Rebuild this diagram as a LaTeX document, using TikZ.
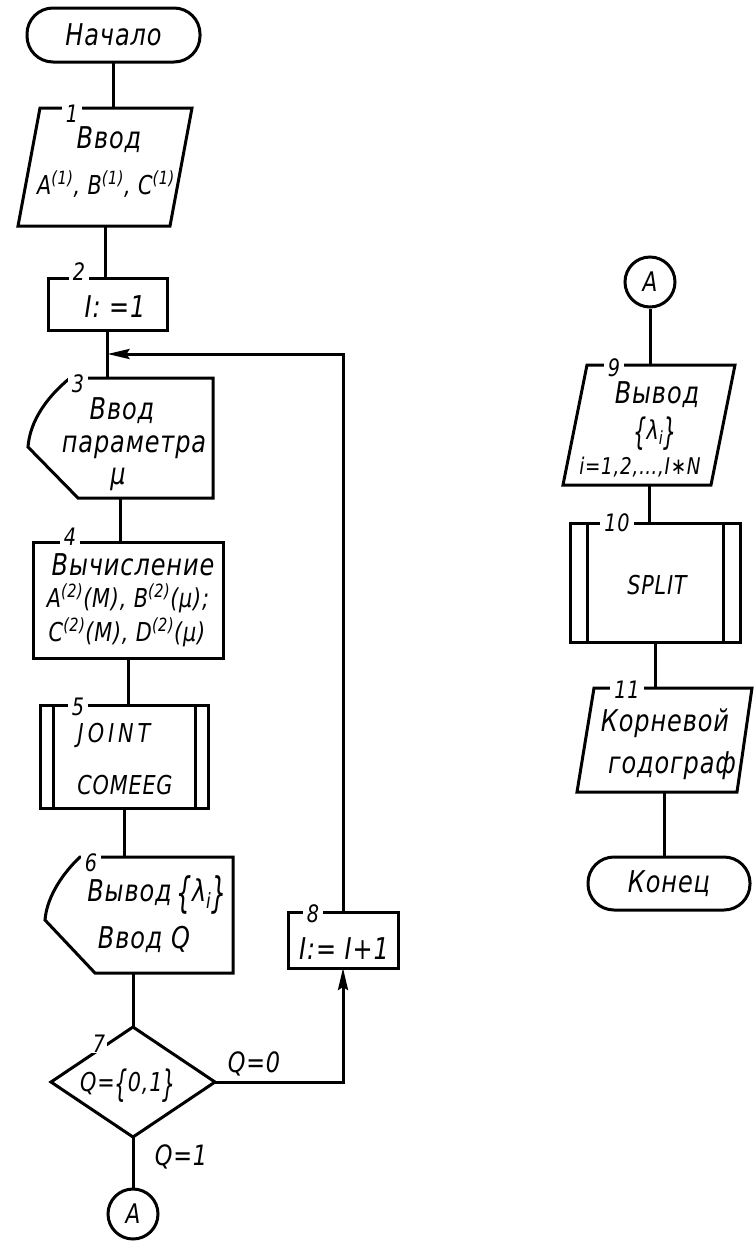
\documentclass[tikz,border=0pt]{standalone}
\usepackage{fontspec}
\setmainfont{DejaVu Sans}[FakeStretch=0.8,LetterSpace=3]
\usetikzlibrary{calc,arrows.meta}
% tall braces drawn from the text font
\newcommand{\tlb}{\raisebox{-0.22em}{\scalebox{1}[1.4]{\{}}}
\newcommand{\trb}{\raisebox{-0.22em}{\scalebox{1}[1.4]{\}}}}
\tikzset{
  lw/.style={line width=3pt},
  outline/.style={lw, line join=miter},
  frame/.style={draw=none, inner sep=0pt, outer sep=0pt},
  plainbox/.style={frame, draw, lw},
  term/.style={plainbox, rounded corners=26pt, font=\fontsize{30}{30}\selectfont\itshape},
  conn/.style={draw, lw, circle, inner sep=0pt, minimum size=50pt, font=\fontsize{27}{27}\selectfont\itshape},
  txt/.style={inner sep=0pt, anchor=base, font=\fontsize{30}{34}\selectfont\itshape},
  smalltxt/.style={txt, font=\fontsize{26}{28}\selectfont\itshape},
  labtxt/.style={txt, font=\fontsize{28}{28}\selectfont\itshape},
  num/.style={fill=white, inner xsep=4pt, inner ysep=0pt, font=\fontsize{24}{24}\selectfont\itshape},
  link/.style={lw},
  arrow/.style={lw, -{Stealth[length=22pt,width=10pt,inset=3pt]}},
}
\begin{document}
\begin{tikzpicture}[x=1pt,y=-1pt]
\useasboundingbox (0,0) rectangle (753,1243);

% ---------- left column ----------
\node[term, minimum width=173pt, minimum height=54pt] (start) at (113.5,35) {Начало};

% 1: input
\node[frame, minimum width=174pt, minimum height=118pt] (b1) at (105,167) {};
\draw[outline] ($(b1.north west)+(22,0)$) -- (b1.north east) -- ($(b1.south east)-(22,0)$) -- (b1.south west) -- cycle;
\node[txt] (t1a) at (109,148) {Ввод};
\node[smalltxt] (t1b) at (106,194) {A\textsuperscript{(1)}, B\textsuperscript{(1)}, C\textsuperscript{(1)}};

% 2: I := 1
\node[plainbox, minimum width=119pt, minimum height=52pt] (b2) at (107.5,304) {};
\node[txt] (t2) at (115,317) {I: =1};

% 3: parameter input (display)
\node[frame, minimum width=185pt, minimum height=120pt] (b3) at (120.5,438) {};
\draw[outline] ($(b3.north west)+(42,0)$) -- (b3.north east) -- (b3.south east) -- ($(b3.south west)+(50,0)$) -- ($(b3.west)+(0,9)$) .. controls ($(b3.west)+(2,-18)$) and ($(b3.north west)+(20,18)$) .. cycle;
\node[txt] (t3a) at (122,419) {Ввод};
\node[txt] (t3b) at (134,452) {параметра};
\node[txt] (t3c) at (118,484) {μ};

% 4: computation
\node[plainbox, minimum width=190pt, minimum height=116pt] (b4) at (128,600) {};
\node[txt] (t4a) at (133,575) {Вычисление};
\node[smalltxt] (t4b) at (128,607) {A\textsuperscript{(2)}(M), B\textsuperscript{(2)}(μ);};
\node[smalltxt] (t4c) at (127,641) {C\textsuperscript{(2)}(M), D\textsuperscript{(2)}(μ)};

% 5: subroutines
\node[plainbox, minimum width=168pt, minimum height=103pt] (b5) at (124,756.5) {};
\draw[outline] ($(b5.north west)+(13,0)$) -- ($(b5.south west)+(13,0)$);
\draw[outline] ($(b5.north east)-(13,0)$) -- ($(b5.south east)-(13,0)$);
\node[smalltxt] (t5a) at (114,742) {\addfontfeature{LetterSpace=15}JOINT};
\node[smalltxt] (t5b) at (125,794) {COMEEG};

% 6: output / input (display)
\node[frame, minimum width=188pt, minimum height=116pt] (b6) at (139,915) {};
\draw[outline] ($(b6.north west)+(35,0)$) -- (b6.north east) -- (b6.south east) -- ($(b6.south west)+(50,0)$) -- ($(b6.west)+(0,5)$) .. controls ($(b6.west)+(2,-20)$) and ($(b6.north west)+(20,14)$) .. cycle;
\node[txt] (t6a) at (157,901) {Вывод\,\tlb λ\textsubscript{i}\trb};
\node[txt] (t6b) at (144,948) {Ввод Q};

% 7: decision
\node[frame, minimum width=164pt, minimum height=110pt] (d7) at (133,1082) {};
\draw[outline] (d7.north) -- (d7.east) -- (d7.south) -- (d7.west) -- cycle;
\node[smalltxt] (t7) at (128,1091) {Q=\tlb 0,1\trb};

\node[conn] (a1) at (133,1214) {A};

% 8: I := I+1
\node[plainbox, minimum width=110pt, minimum height=56pt] (b8) at (343,940) {};
\node[txt] (t8) at (344,959) {I:= I+1};

% ---------- right column ----------
\node[conn] (a2) at (650,282) {A};

% 9: output
\node[frame, minimum width=172pt, minimum height=120pt] (b9) at (649,425) {};
\draw[outline] ($(b9.north west)+(24,0)$) -- (b9.north east) -- ($(b9.south east)-(24,0)$) -- (b9.south west) -- cycle;
\node[txt] (t9a) at (657,403) {Вывод};
\node[smalltxt] (t9b) at (655,439) {\tlb λ\textsubscript{i}\trb};
\node[txt, font=\fontsize{23}{26}\selectfont\itshape] (t9c) at (640,474) {i=1,2,\dots,I∗N};

% 10: subroutine
\node[plainbox, minimum width=170pt, minimum height=119pt] (b10) at (655,582.5) {};
\draw[outline] ($(b10.north west)+(17,0)$) -- ($(b10.south west)+(17,0)$);
\draw[outline] ($(b10.north east)-(17,0)$) -- ($(b10.south east)-(17,0)$);
\node[smalltxt] (t10) at (657,594) {SPLIT};

% 11: root locus
\node[frame, minimum width=175pt, minimum height=104pt] (b11) at (664.5,740) {};
\draw[outline] ($(b11.north west)+(17,0)$) -- (b11.north east) -- ($(b11.south east)-(15,0)$) -- (b11.south west) -- cycle;
\node[txt] (t11a) at (665,731) {Корневой};
\node[txt] (t11b) at (672,773) {годограф};

\node[term, minimum width=162pt, minimum height=53pt] (end) at (669,883.5) {Конец};

% ---------- connectors ----------
\coordinate (join) at ($(b2.south)!0.5!(b2.south |- b3.north)$);
\draw[link] (start.south) -- (start.south |- b1.north);
\draw[link] (b1.south) -- (b1.south |- b2.north);
\draw[link] (b2.south) -- (b2.south |- b3.north);
\draw[link] (b3.south) -- (b3.south |- b4.north);
\draw[link] (b4.south) -- (b4.south |- b5.north);
\draw[link] (b5.south) -- (b5.south |- b6.north);
\draw[link] (d7.north |- b6.south) -- (d7.north);
\draw[link] (d7.south) -- (a1.north);
\draw[arrow] (d7.east) -| (b8.south);
\draw[arrow] (b8.north) |- (join);
\node[labtxt] (q0) at (254,1072) {Q=0};
\node[labtxt] (q1) at (181,1165) {Q=1};

\draw[link] (a2.south) -- (a2.south |- b9.north);
\draw[link] (b9.south) -- (b9.south |- b10.north);
\draw[link] (b10.south) -- (b10.south |- b11.north);
\draw[link] (b11.south) -- (b11.south |- end.north);

% ---------- block numbers ----------
\node[num] (n1) at (72,114) {1};
\node[num] (n2) at (79,272) {2};
\node[num] (n3) at (78,384) {3};
\node[num] (n4) at (70,537) {4};
\node[num] (n5) at (78,707) {5};
\node[num] (n6) at (91,863) {6};
\node[num, inner xsep=2pt] (n7) at (99,1044) {7};
\node[num] (n8) at (313,914) {8};
\node[num] (n9) at (614,368) {9};
\node[num] (n10) at (617,523) {10};
\node[num] (n11) at (627,690) {11};
\end{tikzpicture}
\end{document}
